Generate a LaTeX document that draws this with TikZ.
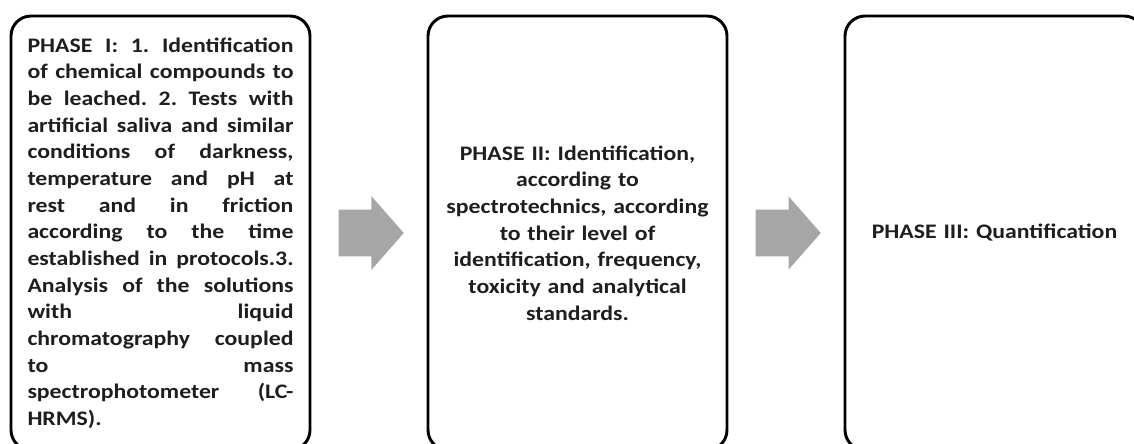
\documentclass[tikz,border=0pt]{standalone}
\usepackage{fontspec}
\setmainfont{Carlito}[FakeStretch=1.15]
\usepackage{tikz}
\usetikzlibrary{calc}
\usetikzlibrary{shapes.arrows}

\definecolor{arrowgray}{HTML}{A6A6A6}
\definecolor{textgray}{HTML}{1E1E1E}

\begin{document}
\begin{tikzpicture}[x=0.75pt, y=-0.75pt,
		phasebox/.style={draw, line width=2.2pt, rounded corners=15pt, minimum width=224.25pt, minimum height=325.5pt, text width=199.5pt, inner sep=0pt, text=textgray, font=\bfseries\fontsize{15.5}{20}\selectfont\frenchspacing},
		blockarrow/.style={single arrow, fill=arrowgray, inner xsep=0pt, inner ysep=17.25pt, minimum height=48.75pt, single arrow head extend=10.125pt, single arrow tip angle=97.5, anchor=tail}]
			\clip (0, 0) rectangle (1134, 443);

			\node[phasebox, align=justify] (phase1) at (160.5, 233) {PHASE I: 1. Identification\linebreak of chemical compounds to\linebreak be leached. 2. Tests with\linebreak artificial saliva and similar\linebreak conditions of darkness,\linebreak temperature and pH at\linebreak rest and in friction\linebreak according to the time\linebreak established in protocols.3.\linebreak Analysis of the solutions\linebreak with liquid\linebreak chromatography coupled\linebreak to mass\linebreak spectrophotometer (LC-\linebreak HRMS).};
			\node[phasebox, align=center] (phase2) at (577.5, 233) {PHASE II: Identification,\\ according to\\ spectrotechnics, according\\ to their level of\\ identification, frequency,\\ toxicity and analytical\\ standards.};
			\node[phasebox, align=center] (phase3) at (994.5, 233) {PHASE III: Quantification};

			\node[blockarrow] (arr1) at ($(phase1.east)+(27, 0)$) {};
			\node[blockarrow] (arr2) at ($(phase2.east)+(27, 0)$) {};
		\end{tikzpicture}
\end{document}
